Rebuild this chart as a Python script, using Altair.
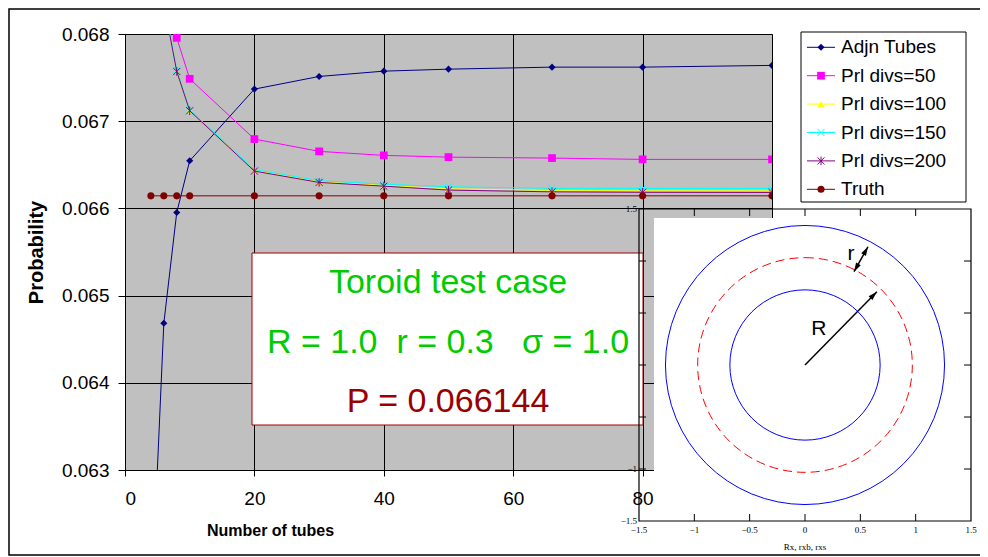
import altair as alt
import pandas as pd

# ---------------- data ----------------
x_adjn = [4, 6, 8, 10, 20, 30, 40, 50, 66, 80, 100]
x_prl = [6, 8, 10, 20, 30, 40, 50, 66, 80, 100]
x_truth = [4, 6, 8, 10, 20, 30, 40, 50, 66, 80, 100]

adjn_tubes = [0.06132, 0.064682, 0.065954, 0.066546, 0.067368, 0.067513,
              0.067574, 0.067597, 0.06762, 0.06762, 0.06764]
prl_50 = [0.0686, 0.067956, 0.067486, 0.066795, 0.066654, 0.066608,
          0.066588, 0.066577, 0.066562, 0.066562]
prl_100 = [0.06836, 0.067575, 0.067124, 0.066436, 0.066305, 0.066265,
           0.066225, 0.066205, 0.066202, 0.066202]
prl_150 = [0.06837, 0.067585, 0.06713, 0.066446, 0.066318, 0.066278,
           0.066248, 0.06623, 0.066229, 0.066229]
prl_200 = [0.06835, 0.06757, 0.06712, 0.066428, 0.066298, 0.066255,
           0.06621, 0.06619, 0.066185, 0.066183]
truth = [0.066144, 0.066144, 0.066144, 0.066144, 0.066144, 0.066144,
         0.066144, 0.066144, 0.066144, 0.066144, 0.066144]

series_names = ["Adjn Tubes", "Prl divs=50", "Prl divs=100",
                "Prl divs=150", "Prl divs=200", "Truth"]
series_x = [x_adjn, x_prl, x_prl, x_prl, x_prl, x_truth]
series_y = [adjn_tubes, prl_50, prl_100, prl_150, prl_200, truth]
series_colors = ["#000080", "#FF00FF", "#FFFF00", "#00FFFF", "#800080", "#800000"]
X_PATH = "M-1,-1L1,1M-1,1L1,-1"
STAR_PATH = "M-1,-1L1,1M-1,1L1,-1M0,-1.2L0,1.2"
series_shapes = ["diamond", "square", "triangle-up", X_PATH, STAR_PATH, "circle"]
series_filled = [True, True, True, False, False, True]
series_sizes = [50, 60, 50, 50, 50, 50]

x_ticks = [0, 20, 40, 60, 80, 100]
y_ticks = [0.063, 0.064, 0.065, 0.066, 0.067, 0.068]

box_lines = ["Toroid test case",
             "R = 1.0\u00a0\u00a0r = 0.3\u00a0\u00a0\u00a0\u03c3 = 1.0",
             "P = 0.066144"]
box_colors = ["#00CC00", "#00CC00", "#990000"]

# inset (toroid cross-section)
ring_solid = [0.7, 1.3]
ring_dashed = [1.0]
inset_ticks = [-1.5, -1, -0.5, 0, 0.5, 1, 1.5]
inset_inner_ticks = [-1, -0.5, 0, 0.5, 1]
inset_xlabels = ["\u22121.5", "\u22121", "\u22120.5", "0", "0.5", "1", "1.5"]
inset_ylabel_vals = [1.5, -1, -1.5]
inset_ylabels = ["1.5", "\u22121", "\u22121.5"]
arrow_R_x = [0, 0.65]
arrow_R_y = [0, 0.705]
arrow_r_x = [0.443, 0.569]
arrow_r_y = [0.897, 1.137]
head_x = [0.621, 0.549, 0.463]
head_y = [0.674, 1.099, 0.935]
head_angle = [45, 29, 209]
label_text = ["R", "r"]
label_x = [0.126, 0.415]
label_y = [0.35, 1.07]

FONT = "Liberation Sans"
SERIF = "Liberation Serif"
W, H = 647, 436

# ---------------- main chart ----------------
xs = alt.Scale(domain=[0, 100], nice=False, zero=False)
ys = alt.Scale(domain=[0.063, 0.068], nice=False, zero=False)
x_axis = alt.Axis(values=x_ticks, grid=True, gridColor="black", gridWidth=1,
                  tickSize=6, tickColor="black", domainColor="black",
                  labelFont=FONT, labelFontSize=19, labelColor="black",
                  labelPadding=13, title="Number of tubes", titleFont=FONT,
                  titleFontSize=16, titleFontWeight="bold", titleColor="black",
                  titleX=145, titleY=65, titleBaseline="alphabetic",
                  titleAlign="center")
y_axis = alt.Axis(values=y_ticks, format=".3f", grid=True, gridColor="black",
                  gridWidth=1, tickSize=7, tickColor="black",
                  domainColor="black", labelFont=FONT, labelFontSize=19,
                  labelColor="black", labelPadding=9, title="Probability",
                  titleFont=FONT, titleFontSize=20, titleFontWeight="bold",
                  titleColor="black", titleX=-89, titleY=218, titleAngle=270,
                  titleAlign="center", titleBaseline="middle")

main_layers = []
for name, sx, sy, col, shp, fil, sz in zip(series_names, series_x, series_y,
                                           series_colors, series_shapes,
                                           series_filled, series_sizes):
    df = pd.DataFrame({"x": sx, "y": sy, "series": name})
    base = alt.Chart(df).encode(x=alt.X("x:Q", scale=xs, axis=x_axis),
                                y=alt.Y("y:Q", scale=ys, axis=y_axis))
    main_layers.append(base.mark_line(color=col, strokeWidth=1, clip=True))
    main_layers.append(base.mark_point(shape=shp, filled=fil, color=col,
                                       size=sz, opacity=1, strokeWidth=1,
                                       clip=True))
main = alt.layer(*main_layers)

# ---------------- text box ----------------
one = pd.DataFrame({"a": [0]})
tb_layers = [alt.Chart(one).mark_rect(fill="white", stroke="#A00000",
                                      strokeWidth=1).encode(
    x=alt.value(127), x2=alt.value(518), y=alt.value(219), y2=alt.value(391))]
for txt, col, by in zip(box_lines, box_colors, [259, 319, 378]):
    tb_layers.append(alt.Chart(pd.DataFrame({"t": [txt]})).mark_text(
        font=FONT, fontSize=34, color=col, align="center",
        baseline="alphabetic").encode(text="t:N", x=alt.value(323),
                                      y=alt.value(by)))
textbox = alt.layer(*tb_layers)

# ---------------- inset ----------------
ix = alt.Scale(domain=[-1.5, 1.5], range=[514, 846], nice=False, zero=False)
iy = alt.Scale(domain=[-1.5, 1.5], range=[487, 175], nice=False, zero=False)
rad = alt.Scale(type="linear", domain=[0, 1.5], range=[0, 161], zero=True)

def IX(f):
    return alt.X(f, scale=ix, axis=None)

def IY(f):
    return alt.Y(f, scale=iy, axis=None)

inset_layers = []
inset_layers.append(alt.Chart(one).mark_rect(fill="white").encode(
    x=alt.value(529), x2=alt.value(860), y=alt.value(184), y2=alt.value(514)))

frame_df = pd.DataFrame({"x": [inset_ticks[0]], "x2": [inset_ticks[-1]],
                         "y": [inset_ticks[0]], "y2": [inset_ticks[-1]]})
inset_layers.append(alt.Chart(frame_df).mark_rect(
    fillOpacity=0, stroke="black", strokeWidth=1.2).encode(
    x=IX("x:Q"), x2="x2:Q", y=IY("y:Q"), y2="y2:Q"))

lo, hi = inset_ticks[0], inset_ticks[-1]
ty = 7 / 104.0
tx = 7 / 110.7
tick_rows = []
for v in inset_inner_ticks:
    tick_rows.append({"x": v, "x2": v, "y": hi, "y2": hi - ty})
    tick_rows.append({"x": v, "x2": v, "y": lo, "y2": lo + ty})
    tick_rows.append({"x": hi, "x2": hi - tx, "y": v, "y2": v})
    tick_rows.append({"x": lo, "x2": lo + tx, "y": v, "y2": v})
inset_layers.append(alt.Chart(pd.DataFrame(tick_rows)).mark_rule(
    color="black", strokeWidth=1).encode(x=IX("x:Q"), x2="x2:Q",
                                         y=IY("y:Q"), y2="y2:Q"))

solid_df = pd.DataFrame({"cx": [0] * len(ring_solid), "cy": [0] * len(ring_solid),
                         "r": ring_solid})
inset_layers.append(alt.Chart(solid_df).mark_arc(
    filled=False, color="#0000FF", strokeWidth=1, theta=0, theta2=6.2832).encode(
    x=IX("cx:Q"), y=IY("cy:Q"),
    radius=alt.Radius("r:Q", scale=rad, stack=None)))
dashed_df = pd.DataFrame({"cx": [0], "cy": [0], "r": ring_dashed})
inset_layers.append(alt.Chart(dashed_df).mark_arc(
    filled=False, color="#FF0000", strokeWidth=1, strokeDash=[9, 5],
    theta=0, theta2=6.2832).encode(
    x=IX("cx:Q"), y=IY("cy:Q"),
    radius=alt.Radius("r:Q", scale=rad, stack=None)))

for axx, ayy in [(arrow_R_x, arrow_R_y), (arrow_r_x, arrow_r_y)]:
    inset_layers.append(alt.Chart(pd.DataFrame({"x": axx, "y": ayy})).mark_line(
        color="black", strokeWidth=1.5).encode(x=IX("x:Q"), y=IY("y:Q")))
heads_df = pd.DataFrame({"x": head_x, "y": head_y, "a": head_angle})
inset_layers.append(alt.Chart(heads_df).mark_point(
    shape="M0,-1L0.6,1L-0.6,1Z", filled=True, color="black", size=81,
    opacity=1).encode(x=IX("x:Q"), y=IY("y:Q"),
                      angle=alt.Angle("a:Q", scale=None)))
lab_df = pd.DataFrame({"x": label_x, "y": label_y, "t": label_text})
inset_layers.append(alt.Chart(lab_df).mark_text(
    font=FONT, fontSize=21, color="black", align="center",
    baseline="middle").encode(x=IX("x:Q"), y=IY("y:Q"), text="t:N"))

xl_df = pd.DataFrame({"x": inset_ticks, "y": [lo] * len(inset_ticks),
                      "t": inset_xlabels})
inset_layers.append(alt.Chart(xl_df).mark_text(
    font=SERIF, fontSize=9, color="black", align="center", baseline="top",
    dy=5).encode(x=IX("x:Q"), y=IY("y:Q"), text="t:N"))
yl_df = pd.DataFrame({"x": [lo] * len(inset_ylabel_vals), "y": inset_ylabel_vals,
                      "t": inset_ylabels})
inset_layers.append(alt.Chart(yl_df).mark_text(
    font=SERIF, fontSize=9, color="black", align="right", baseline="middle",
    dx=-2).encode(x=IX("x:Q"), y=IY("y:Q"), text="t:N"))
ttl_df = pd.DataFrame({"x": [0], "y": [lo], "t": ["Rx, rxb, rxs"]})
inset_layers.append(alt.Chart(ttl_df).mark_text(
    font=SERIF, fontSize=9, color="black", align="center", baseline="middle",
    dy=26).encode(x=IX("x:Q"), y=IY("y:Q"), text="t:N"))
inset = alt.layer(*inset_layers)

# ---------------- legend ----------------
ly = alt.Scale(type="point", domain=series_names, range=[13.3, 155.3], padding=0)
leg_layers = [alt.Chart(one).mark_rect(fill="white", stroke="black",
                                       strokeWidth=1).encode(
    x=alt.value(676), x2=alt.value(841), y=alt.value(-2), y2=alt.value(168))]
for name, col, shp, fil, sz in zip(series_names, series_colors, series_shapes,
                                   series_filled, series_sizes):
    d = pd.DataFrame({"series": [name]})
    yenc = alt.Y("series:N", scale=ly, axis=None)
    leg_layers.append(alt.Chart(d).mark_rule(color=col, strokeWidth=1).encode(
        y=yenc, x=alt.value(682), x2=alt.value(710)))
    leg_layers.append(alt.Chart(d).mark_point(
        shape=shp, filled=fil, color=col, size=sz, opacity=1,
        strokeWidth=1).encode(y=yenc, x=alt.value(696)))
    leg_layers.append(alt.Chart(d).mark_text(
        font=FONT, fontSize=19, color="black", align="left",
        baseline="middle").encode(y=yenc, x=alt.value(716), text="series:N"))
legend = alt.layer(*leg_layers)

# ---------------- outer border ----------------
border = alt.Chart(one).mark_rect(fillOpacity=0, stroke="black",
                                  strokeWidth=1.5).encode(
    x=alt.value(-116), x2=alt.value(862), y=alt.value(-25), y2=alt.value(521))

chart = alt.layer(main, textbox, inset, legend, border).resolve_scale(
    x="independent", y="independent"
).properties(
    width=W, height=H,
    padding={"left": 117, "top": 26, "right": 208, "bottom": 87},
    autosize=alt.AutoSizeParams(type="none"),
).configure_view(fill="#C0C0C0", stroke="#808080", strokeWidth=1)

chart.save("out.html", embed_options={"renderer": "svg", "actions": False})
